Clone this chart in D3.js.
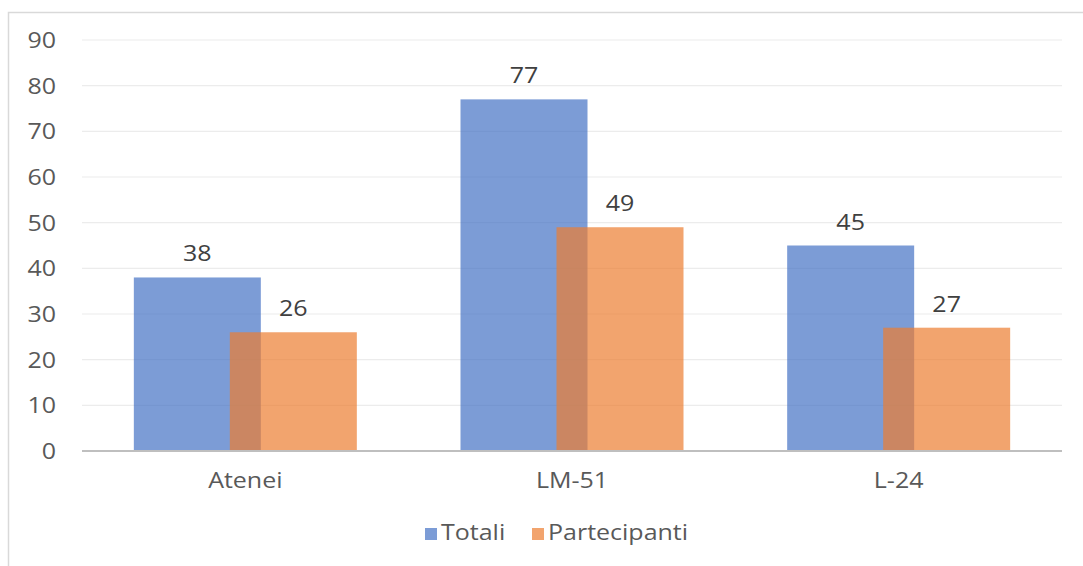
<!DOCTYPE html>
<html><head><meta charset="utf-8">
<script src="https://cdn.jsdelivr.net/npm/d3@7"></script>
<style>body{margin:0;background:#fff}svg{display:block}</style>
</head><body>
<script>
const categories = ["Atenei", "LM-51", "L-24"];
const seriesNames = ["Totali", "Partecipanti"];
const totali = [38, 77, 45];
const partecipanti = [26, 49, 27];
const yTicks = [0, 10, 20, 30, 40, 50, 60, 70, 80, 90];
const colors = ["#4472C4", "#ED7D31"];

const W = 1083, H = 566;
const svg = d3.select("body").append("svg").attr("width", W).attr("height", H);
const font = "'Open Sans', 'Segoe UI', sans-serif";
const FS = 21, SX = 1.19;

// frame
svg.append("rect").attr("x", 8.5).attr("y", 12.5).attr("width", W + 10).attr("height", H + 10)
  .attr("fill", "#fff").attr("stroke", "#d9d9d9").attr("stroke-width", 1.5);

const x0 = 82, x1 = 1062, yBase = 451, yTop = 40;
const x = d3.scaleBand().domain(categories).range([x0, x1]).paddingInner(0).paddingOuter(0);
const y = d3.scaleLinear().domain([0, 90]).range([yBase, yTop]);

// grid
svg.append("g").selectAll("line").data(yTicks.slice(1)).join("line")
  .attr("x1", x0).attr("x2", x1).attr("y1", d => y(d)).attr("y2", d => y(d))
  .attr("stroke", "#ececec").attr("stroke-width", 1.2);

// y axis labels
const yAxis = d3.axisLeft(y).tickValues(yTicks).tickSize(0).tickPadding(0);
const gy = svg.append("g").attr("transform", `translate(56,0)`).call(yAxis);
gy.select(".domain").remove();
gy.selectAll("text").attr("font-family", font).attr("font-size", FS).attr("fill", "#595959")
  .attr("x", 0).attr("dy", "0.36em").attr("transform", `scale(${SX},1)`);

const barW = 127, offset = 96;
const pairW = barW + offset;
const series = [totali, partecipanti];
series.forEach((vals, si) => {
  const g = svg.append("g");
  g.selectAll("rect").data(categories).join("rect")
    .attr("x", (c) => x(c) + x.bandwidth() / 2 - pairW / 2 + si * offset)
    .attr("y", (c, i) => y(vals[i]))
    .attr("width", barW)
    .attr("height", (c, i) => y(0) - y(vals[i]))
    .attr("fill", colors[si]).attr("fill-opacity", 0.7);
});
series.forEach((vals, si) => {
  svg.append("g").selectAll("text").data(categories).join("text")
    .attr("transform", (c, i) => `translate(${x(c) + x.bandwidth() / 2 - pairW / 2 + si * offset + barW / 2},${y(vals[i]) - 16}) scale(${SX},1)`)
    .attr("text-anchor", "middle")
    .attr("font-family", font).attr("font-size", FS).attr("fill", "#404040")
    .text((c, i) => vals[i]);
});

// baseline
svg.append("line").attr("x1", x0).attr("x2", x1).attr("y1", yBase).attr("y2", yBase)
  .attr("stroke", "#bfbfbf").attr("stroke-width", 2.2);

// x labels
const xAxis = d3.axisBottom(x).tickSize(0).tickPadding(0);
const gx = svg.append("g").attr("transform", `translate(0,${yBase})`).call(xAxis);
gx.select(".domain").remove();
gx.selectAll("text").attr("font-family", font).attr("font-size", FS).attr("fill", "#595959")
  .attr("dy", null).attr("y", 37).attr("transform", `scale(${SX},1)`);

// legend
const legendX = [425, 532];
const lg = svg.append("g");
seriesNames.forEach((name, i) => {
  lg.append("rect").attr("x", legendX[i]).attr("y", 528).attr("width", 12).attr("height", 12)
    .attr("fill", colors[i]).attr("fill-opacity", 0.7);
  lg.append("text").attr("transform", `translate(${legendX[i] + 16},540) scale(${SX},1)`)
    .attr("font-family", font).attr("font-size", FS).attr("fill", "#595959").text(name);
});
</script>
</body></html>
